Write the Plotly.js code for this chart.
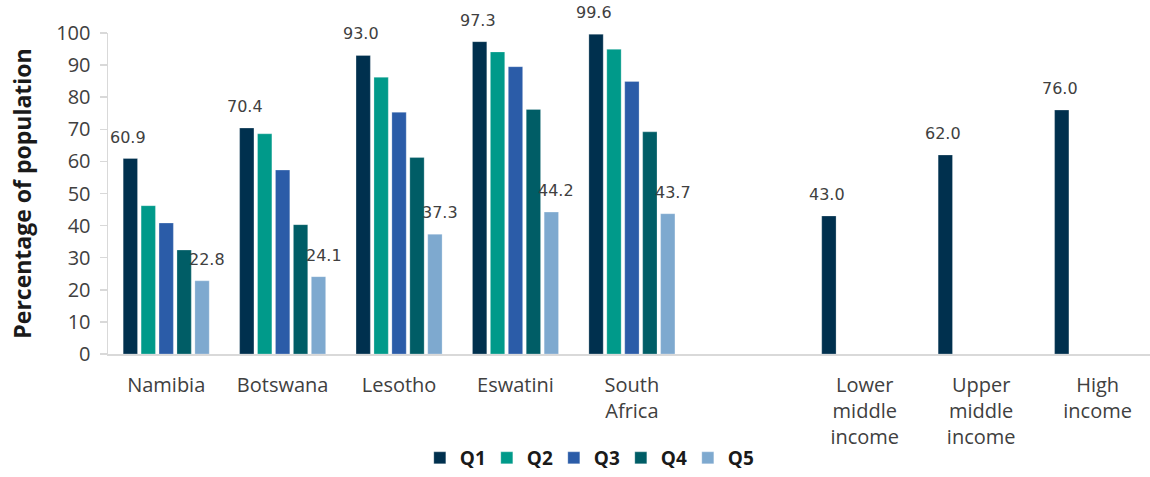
<!DOCTYPE html>
<html>
<head>
<meta charset="utf-8">
<script src="https://cdn.plot.ly/plotly-3.0.1.min.js"></script>
<style>html,body{margin:0;padding:0;background:#fff;}#chart{width:1150px;height:477px;}</style>
</head>
<body>
<div id="chart"></div>
<script>
// Categories (a blank category separates countries from income groups)
const categories = ["Namibia", "Botswana", "Lesotho", "Eswatini", "South<br>Africa", " ",
  "Lower<br>middle<br>income", "Upper<br>middle<br>income", "High<br>income"];
const seriesNames = ["Q1", "Q2", "Q3", "Q4", "Q5"];
const q1 = [60.9, 70.4, 93.0, 97.3, 99.6, null, 43.0, 62.0, 76.0];
const q2 = [46.2, 68.6, 86.2, 94.1, 94.9, null, null, null, null];
const q3 = [40.8, 57.3, 75.3, 89.5, 84.9, null, null, null, null];
const q4 = [32.4, 40.3, 61.2, 76.2, 69.2, null, null, null, null];
const q5 = [22.8, 24.1, 37.3, 44.2, 43.7, null, null, null, null];
const colors = ["#00304e", "#009a8a", "#2b5ca8", "#005d66", "#7ea9cf"];
// which series carry data labels
const labelled = {Q1: true, Q5: true};

const allSeries = [q1, q2, q3, q4, q5];
const bargap = 0.23;
const slot = (1 - bargap) / seriesNames.length;

const traces = allSeries.map((vals, k) => ({
  type: "bar",
  name: seriesNames[k],
  x: categories,
  y: vals,
  marker: {color: colors[k], line: {color: "rgba(255,255,255,0.5)", width: 0.5}},
  hoverinfo: "x+y+name"
}));

const annotations = [];
allSeries.forEach((vals, k) => {
  if (!labelled[seriesNames[k]]) return;
  const offset = (k - (seriesNames.length - 1) / 2) * slot;
  vals.forEach((v, i) => {
    if (v === null) return;
    annotations.push({
      xref: "x", yref: "y",
      x: i + offset, y: v,
      text: v.toFixed(1),
      showarrow: false,
      yanchor: "bottom",
      yshift: 10,
      xshift: k === 0 ? -2 : 5,
      font: {family: "DejaVu Sans", stretch: "condensed", size: 16, color: "#404040"}
    });
  });
});

const layout = {
  width: 1150, height: 477,
  margin: {l: 108, r: 0, t: 33, b: 123},
  paper_bgcolor: "#fff", plot_bgcolor: "#fff",
  barmode: "group",
  bargap: bargap,
  bargroupgap: 0.2,
  showlegend: true,
  legend: {
    orientation: "h", x: 0.46, xref: "paper", xanchor: "center",
    yref: "container", y: -0.025, yanchor: "bottom",
    bgcolor: "rgba(0,0,0,0)",
    font: {family: "Open Sans, sans-serif", size: 19, color: "#1a1a1a", weight: "bold"},
    itemwidth: 30, entrywidth: 22, entrywidthmode: "pixels", traceorder: "normal"
  },
  xaxis: {
    type: "category",
    range: [-0.5, 8.45],
    showline: true, linecolor: "#d9d9d9", linewidth: 2,
    ticks: "", showgrid: false, zeroline: false,
    tickfont: {family: "Open Sans, sans-serif", size: 20, color: "#404040"},
    ticklabelstandoff: 12,
    automargin: false,
    fixedrange: true
  },
  yaxis: {
    range: [0, 100],
    dtick: 10,
    showline: true, linecolor: "#d9d9d9", linewidth: 1.5,
    ticks: "outside", ticklen: 7, tickcolor: "#d9d9d9", tickwidth: 1.5,
    showgrid: false, zeroline: false,
    tickfont: {family: "Open Sans, sans-serif", size: 20, color: "#404040"},
    ticklabelstandoff: 5,
    automargin: false,
    title: {text: "Percentage of population", standoff: 18,
      font: {family: "Open Sans, sans-serif", size: 23, color: "#1a1a1a", weight: "bold"}},
    fixedrange: true
  },
  annotations: annotations
};

Plotly.newPlot("chart", traces, layout, {displayModeBar: false, staticPlot: true});
</script>
</body>
</html>
